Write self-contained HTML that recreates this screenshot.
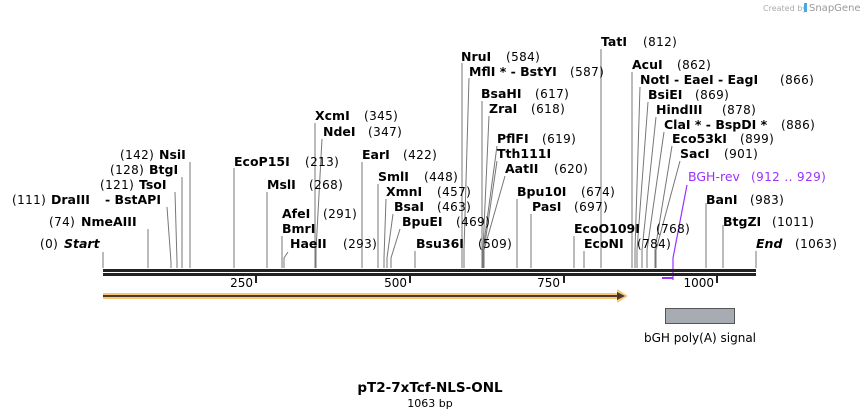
<!DOCTYPE html>
<html><head><meta charset="utf-8"><style>
html,body{margin:0;padding:0;background:#fff;}
svg{display:block;font-family:"DejaVu Sans","Liberation Sans",sans-serif;}
.n{font-weight:bold;font-size:12.5px;fill:#000;}
.p{font-size:12px;fill:#000;letter-spacing:0.4px;}
.a{font-size:12px;fill:#000;}
.l{stroke:#777;stroke-width:1;fill:none;}
</style></head><body>
<svg width="860" height="419" viewBox="0 0 860 419" xmlns="http://www.w3.org/2000/svg">
<text x="763" y="11" font-size="8" fill="#aaa">Created by</text>
<rect x="804" y="3" width="3" height="9" fill="#4aa8e0"/>
<text x="809" y="11" font-size="10" fill="#999">SnapGene</text>

<g class="l">
<polyline points="103,268 103,252"/>
<polyline points="148,268 148,229"/>
<polyline points="171,268 171,262 167,207"/>
<polyline points="177,268 177,262 175,192"/>
<polyline points="182,268 182,177"/>
<polyline points="190,268 190,162"/>
<polyline points="234,268 234,168"/>
<polyline points="267,268 267,192"/>
<polyline points="282,268 282,236"/>
<polyline points="284,268 284,258 288,252"/>
<polyline points="315,268 315,123"/>
<polyline points="316,268 316,250 322,139"/>
<polyline points="362,268 362,162"/>
<polyline points="378,268 378,184"/>
<polyline points="384,268 384,258 386,199"/>
<polyline points="387,268 387,258 393,214"/>
<polyline points="391,268 391,258 400,229"/>
<polyline points="415,268 415,251"/>
<polyline points="462,268 462,63"/>
<polyline points="464,268 464,250 469,78"/>
<polyline points="482,268 482,101"/>
<polyline points="483,268 483,250 489,116"/>
<polyline points="483,268 483,250 497,146"/>
<polyline points="484,268 484,250 497,161"/>
<polyline points="484,268 484,250 505,176"/>
<polyline points="517,268 517,199"/>
<polyline points="531,268 531,214"/>
<polyline points="574,268 574,236"/>
<polyline points="584,268 584,251"/>
<polyline points="601,268 601,49"/>
<polyline points="632,268 632,72"/>
<polyline points="635,268 635,250 640,87"/>
<polyline points="637,268 637,250 648,102"/>
<polyline points="642,268 642,250 656,117"/>
<polyline points="647,268 647,250 664,132"/>
<polyline points="655,268 655,250 672,146"/>
<polyline points="656,268 656,250 680,161"/>
<polyline points="706,268 706,203"/>
<polyline points="723,268 723,225"/>
<polyline points="756,268 756,251"/>
</g>
<polyline points="673,280 673,258 687,185" stroke="#9b30ff" stroke-width="1.2" fill="none"/>
<rect x="662" y="277" width="11" height="2" fill="#9b30ff"/>

<rect x="103" y="269" width="653" height="3" fill="#222"/>
<rect x="103" y="273" width="653" height="3" fill="#222"/>
<g fill="#222">
<rect x="255" y="276" width="2" height="7"/><rect x="409" y="276" width="2" height="7"/>
<rect x="563" y="276" width="2" height="7"/><rect x="716" y="276" width="2" height="7"/>
</g>
<g class="a" text-anchor="end">
<text x="253" y="287">250</text><text x="407" y="287">500</text>
<text x="560" y="287">750</text><text x="714" y="287">1000</text>
</g>

<rect x="103" y="293" width="516" height="6" fill="#f8c676"/>
<polygon points="617,289 628,296 617,303" fill="#f8c676"/>
<rect x="103" y="295" width="516" height="2" fill="#4a3a2a"/>
<polygon points="617,292 625,296 617,300" fill="#4a3a2a"/>

<rect x="665.5" y="308.5" width="69" height="15" fill="#a7acb3" stroke="#555"/>
<text x="700" y="342" font-size="12" text-anchor="middle">bGH poly(A) signal</text>

<text x="430" y="392" font-size="13.5" font-weight="bold" text-anchor="middle">pT2-7xTcf-NLS-ONL</text>
<text x="430" y="407" font-size="11" text-anchor="middle">1063 bp</text>

<text class="p" x="40" y="248">(0)</text><text class="n" x="64" y="248" font-style="italic">Start</text>
<text class="p" x="49" y="226">(74)</text><text class="n" x="81" y="226">NmeAIII</text>
<text class="p" x="12" y="204">(111)</text><text class="n" x="51" y="204">DraIII</text><text class="n" x="105" y="204">- BstAPI</text>
<text class="p" x="100" y="189">(121)</text><text class="n" x="139" y="189">TsoI</text>
<text class="p" x="110" y="174">(128)</text><text class="n" x="149" y="174">BtgI</text>
<text class="p" x="120" y="159">(142)</text><text class="n" x="159" y="159">NsiI</text>
<text class="n" x="234" y="166">EcoP15I</text><text class="p" x="305" y="166">(213)</text>
<text class="n" x="267" y="189">MslI</text><text class="p" x="309" y="189">(268)</text>
<text class="n" x="282" y="218">AfeI</text><text class="p" x="323" y="218">(291)</text>
<text class="n" x="282" y="233">BmrI</text>
<text class="n" x="290" y="248">HaeII</text><text class="p" x="343" y="248">(293)</text>
<text class="n" x="315" y="120">XcmI</text><text class="p" x="364" y="120">(345)</text>
<text class="n" x="323" y="136">NdeI</text><text class="p" x="368" y="136">(347)</text>
<text class="n" x="362" y="159">EarI</text><text class="p" x="403" y="159">(422)</text>
<text class="n" x="378" y="181">SmlI</text><text class="p" x="424" y="181">(448)</text>
<text class="n" x="386" y="196">XmnI</text><text class="p" x="437" y="196">(457)</text>
<text class="n" x="394" y="211">BsaI</text><text class="p" x="437" y="211">(463)</text>
<text class="n" x="402" y="226">BpuEI</text><text class="p" x="456" y="226">(469)</text>
<text class="n" x="416" y="248">Bsu36I</text><text class="p" x="478" y="248">(509)</text>
<text class="n" x="461" y="61">NruI</text><text class="p" x="506" y="61">(584)</text>
<text class="n" x="469" y="76">MflI * - BstYI</text><text class="p" x="570" y="76">(587)</text>
<text class="n" x="481" y="98">BsaHI</text><text class="p" x="535" y="98">(617)</text>
<text class="n" x="489" y="113">ZraI</text><text class="p" x="531" y="113">(618)</text>
<text class="n" x="497" y="143">PflFI</text><text class="p" x="542" y="143">(619)</text>
<text class="n" x="497" y="158">Tth111I</text>
<text class="n" x="505" y="173">AatII</text><text class="p" x="554" y="173">(620)</text>
<text class="n" x="517" y="196">Bpu10I</text><text class="p" x="581" y="196">(674)</text>
<text class="n" x="532" y="211">PasI</text><text class="p" x="574" y="211">(697)</text>
<text class="n" x="574" y="233">EcoO109I</text><text class="p" x="656" y="233">(768)</text>
<text class="n" x="584" y="248">EcoNI</text><text class="p" x="637" y="248">(784)</text>
<text class="n" x="601" y="46">TatI</text><text class="p" x="643" y="46">(812)</text>
<text class="n" x="632" y="69">AcuI</text><text class="p" x="677" y="69">(862)</text>
<text class="n" x="640" y="84">NotI - EaeI - EagI</text><text class="p" x="780" y="84">(866)</text>
<text class="n" x="648" y="99">BsiEI</text><text class="p" x="695" y="99">(869)</text>
<text class="n" x="656" y="114">HindIII</text><text class="p" x="722" y="114">(878)</text>
<text class="n" x="664" y="129">ClaI * - BspDI *</text><text class="p" x="781" y="129">(886)</text>
<text class="n" x="672" y="143">Eco53kI</text><text class="p" x="740" y="143">(899)</text>
<text class="n" x="680" y="158">SacI</text><text class="p" x="724" y="158">(901)</text>
<text x="688" y="181" font-size="12.5" fill="#9b30ff">BGH-rev</text><text x="751" y="181" font-size="12" letter-spacing="0.4" fill="#9b30ff">(912 .. 929)</text>
<text class="n" x="706" y="204">BanI</text><text class="p" x="750" y="204">(983)</text>
<text class="n" x="723" y="226">BtgZI</text><text class="p" x="772" y="226">(1011)</text>
<text class="n" x="756" y="248" font-style="italic">End</text><text class="p" x="795" y="248">(1063)</text>
</svg>
</body></html>
